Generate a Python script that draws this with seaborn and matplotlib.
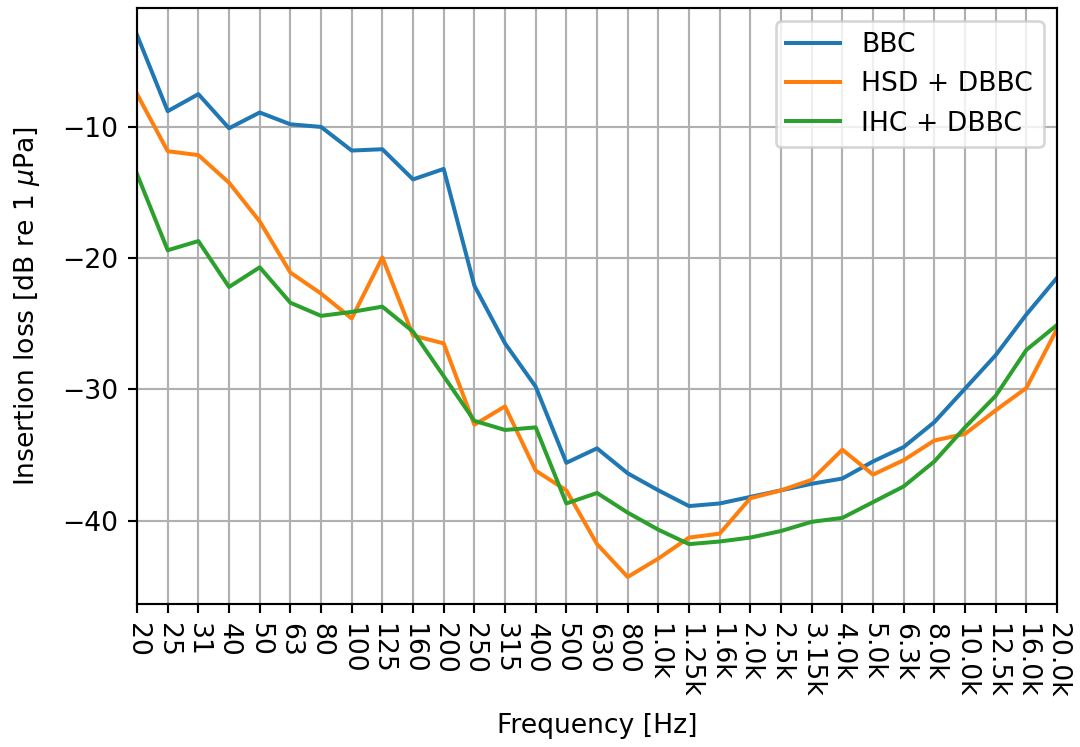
import matplotlib
matplotlib.use("Agg")
import matplotlib.pyplot as plt
import seaborn as sns
import numpy as np

freq_labels = ["20", "25", "31", "40", "50", "63", "80", "100", "125", "160", "200",
               "250", "315", "400", "500", "630", "800", "1.0k", "1.25k", "1.6k", "2.0k",
               "2.5k", "3.15k", "4.0k", "5.0k", "6.3k", "8.0k", "10.0k", "12.5k", "16.0k", "20.0k"]

bbc = [-3.0, -8.8, -7.5, -10.1, -8.9, -9.8, -10.0, -11.8, -11.7, -14.0, -13.2,
       -22.1, -26.5, -29.8, -35.6, -34.5, -36.4, -37.7, -38.9, -38.7, -38.2,
       -37.7, -37.2, -36.8, -35.5, -34.4, -32.5, -29.95, -27.4, -24.3, -21.5]

hsd_dbbc = [-7.5, -11.85, -12.15, -14.25, -17.2, -21.1, -22.7, -24.6, -19.95, -25.9, -26.5,
            -32.7, -31.3, -36.2, -37.7, -41.8, -44.3, -42.9, -41.3, -41.0, -38.3,
            -37.7, -36.9, -34.6, -36.5, -35.4, -33.9, -33.4, -31.6, -29.9, -25.4]

ihc_dbbc = [-13.6, -19.4, -18.7, -22.2, -20.7, -23.4, -24.4, -24.1, -23.7, -25.6, -29.0,
            -32.4, -33.1, -32.9, -38.7, -37.9, -39.4, -40.7, -41.8, -41.6, -41.3,
            -40.8, -40.1, -39.8, -38.6, -37.4, -35.5, -32.9, -30.5, -27.0, -25.1]

series_names = ["BBC", "HSD + DBBC", "IHC + DBBC"]
colors = ["#1f77b4", "#ff7f0e", "#2ca02c"]

fig = plt.figure(figsize=(1080 / 192, 747 / 192), dpi=192)
ax = fig.add_axes([0.1269, 0.1914, 0.9787 - 0.1269, 0.9893 - 0.1914])

x = np.arange(len(freq_labels))
for vals, name, c in zip([bbc, hsd_dbbc, ihc_dbbc], series_names, colors):
    sns.lineplot(x=x, y=vals, ax=ax, label=name, color=c, linewidth=1.5)

ax.set_xlim(0, len(freq_labels) - 1)
ax.set_xticks(x)
ax.set_xticklabels(freq_labels, rotation=-90)
ax.set_yticks([-40, -30, -20, -10])
ax.grid(True, color="#b0b0b0", linewidth=0.8)
ax.set_axisbelow(True)
ax.set_xlabel("Frequency [Hz]", labelpad=6)
ax.set_ylabel("Insertion loss [dB re 1 $\\mu$Pa]", labelpad=7.5)
ax.legend(loc="upper right")

fig.savefig("out.png", dpi=192)
